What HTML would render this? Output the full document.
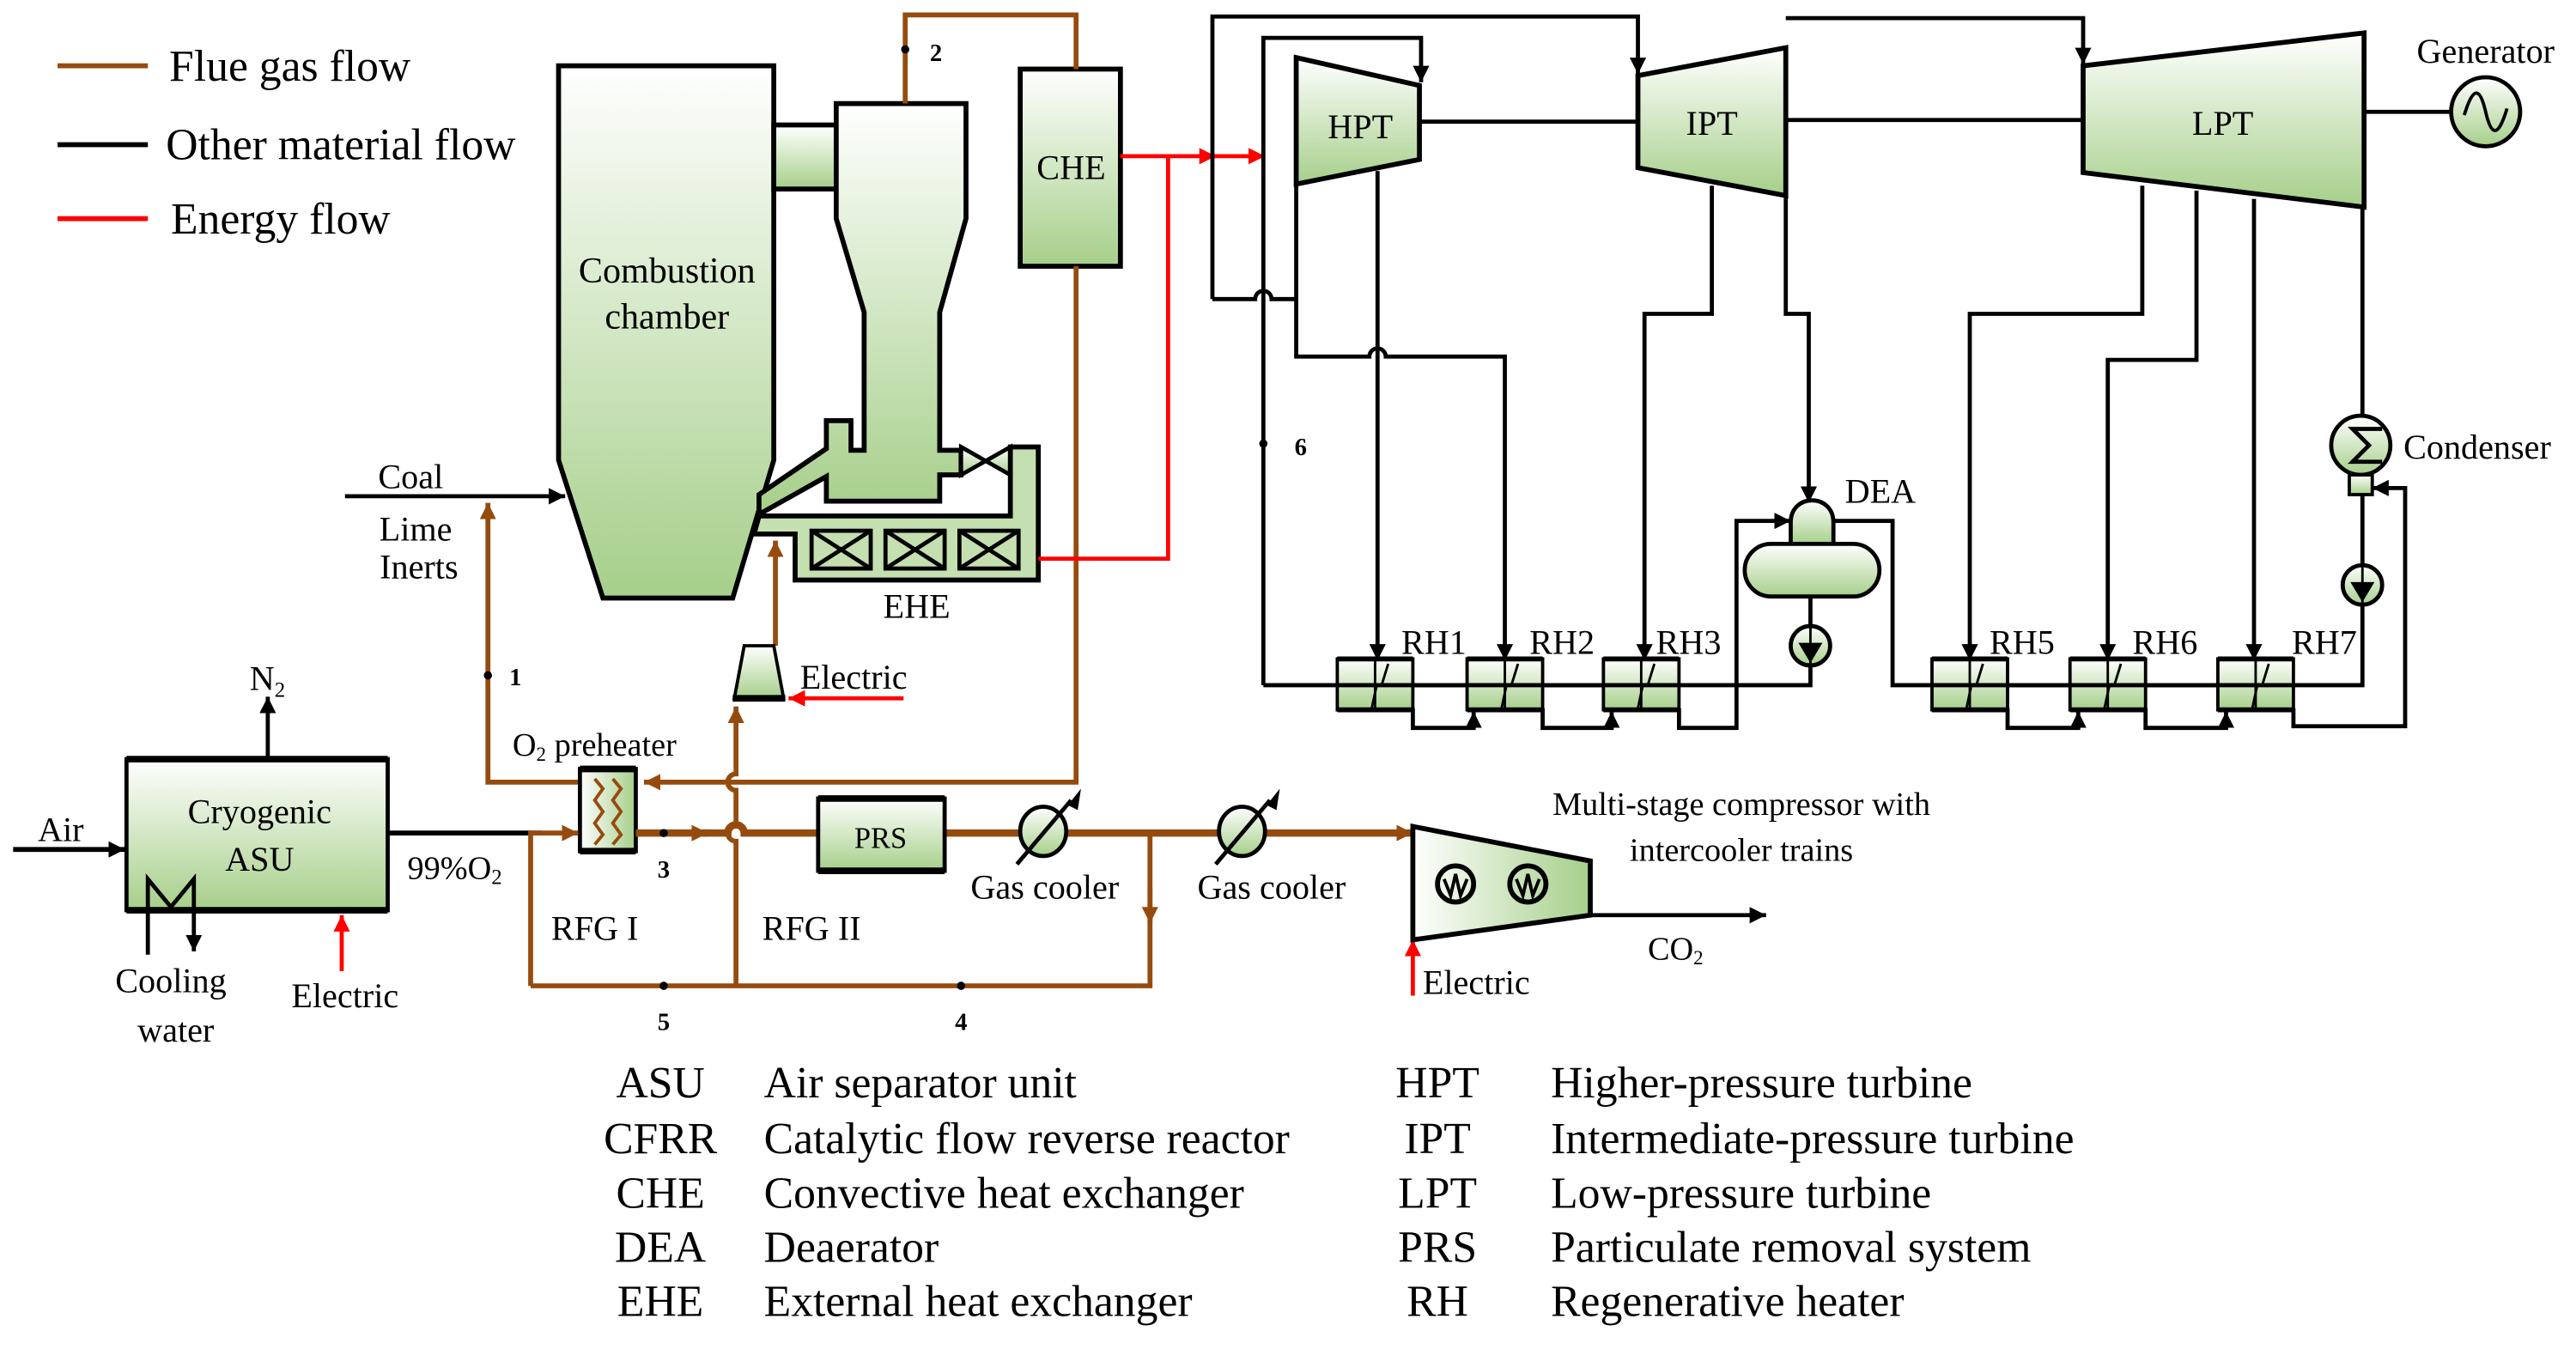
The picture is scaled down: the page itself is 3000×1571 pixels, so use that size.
<!DOCTYPE html>
<html><head><meta charset="utf-8"><style>
html,body{margin:0;padding:0;background:#fff;}
svg{display:block;}
text{font-family:"Liberation Serif",serif;fill:#000;}
</style></head><body>
<svg width="3000" height="1571" viewBox="0 0 1568 821" xmlns="http://www.w3.org/2000/svg">
<defs>
<linearGradient id="g" x1="0" y1="0" x2="0" y2="1"><stop offset="0" stop-color="#ffffff"/><stop offset="1" stop-color="#a6cf8a"/></linearGradient>
<linearGradient id="gh" x1="0" y1="0" x2="1" y2="0"><stop offset="0" stop-color="#ffffff"/><stop offset="1" stop-color="#a6cf8a"/></linearGradient>
<marker id="ak" markerWidth="12" markerHeight="12" refX="10" refY="5" orient="auto" markerUnits="userSpaceOnUse"><path d="M0,0 L10,5 L0,10 z" fill="#000"/></marker>
<marker id="ab" markerWidth="12" markerHeight="12" refX="10" refY="5" orient="auto" markerUnits="userSpaceOnUse"><path d="M0,0 L10,5 L0,10 z" fill="#964B0E"/></marker>
<marker id="ar" markerWidth="12" markerHeight="12" refX="10" refY="5" orient="auto" markerUnits="userSpaceOnUse"><path d="M0,0 L10,5 L0,10 z" fill="#f00"/></marker>
<g id="rh">
<rect x="0" y="0" width="46" height="31" fill="url(#g)" stroke="#000" stroke-width="2"/>
<line x1="0" y1="0" x2="46" y2="0" stroke="#000" stroke-width="3"/>
<line x1="0" y1="31" x2="46" y2="31" stroke="#000" stroke-width="3"/>
<line x1="23" y1="0" x2="23" y2="31" stroke="#000" stroke-width="1.5"/>
<path d="M21,30 L24,16 L27,16 L31,3" fill="none" stroke="#000" stroke-width="1.5"/>
</g>
</defs>

<!-- Legend -->
<g stroke-width="3">
<line x1="35" y1="40" x2="90" y2="40" stroke="#964B0E"/>
<line x1="35" y1="88" x2="90" y2="88" stroke="#000"/>
<line x1="35" y1="133" x2="90" y2="133" stroke="#f00"/>
</g>
<text x="103" y="49" font-size="27">Flue gas flow</text>
<text x="101" y="97" font-size="27">Other material flow</text>
<text x="104" y="142" font-size="27">Energy flow</text>

<!-- Combustion chamber -->
<polygon points="340,40 471,40 471,280 446,364 367,364 340,280" fill="url(#g)" stroke="#000" stroke-width="3"/>
<text x="406" y="172" font-size="22" text-anchor="middle">Combustion</text>
<text x="406" y="200" font-size="22" text-anchor="middle">chamber</text>
<rect x="471" y="76" width="38" height="39" fill="url(#g)" stroke="#000" stroke-width="3"/>
<path d="M509,63 L588,63 L588,133 L572,190 L572,274 L585,274 L585,289 L572,289 L572,305 L503,305 L503,290 L462,313 L462,301 L503,273 L503,256 L518,256 L518,274 L526,274 L526,190 L509,133 Z" fill="url(#g)" stroke="#000" stroke-width="3"/>
<path d="M585,272 L615,289 L615,272 L585,289 Z" fill="url(#g)" stroke="#000" stroke-width="2.5"/>
<path d="M615,272 L632,272 L632,353 L484,353 L484,325 L459,325 L462,314 L615,314 Z" fill="#c5e0b0" stroke="#000" stroke-width="3"/>
<g fill="none" stroke="#000" stroke-width="2.5">
<rect x="494" y="323" width="36" height="23"/><path d="M494,323 L530,346 M530,323 L494,346"/>
<rect x="539" y="323" width="36" height="23"/><path d="M539,323 L575,346 M575,323 L539,346"/>
<rect x="584" y="323" width="36" height="23"/><path d="M584,323 L620,346 M620,323 L584,346"/>
</g>
<text x="558" y="376" font-size="21" text-anchor="middle">EHE</text>

<rect x="621" y="42" width="61" height="120" fill="url(#g)" stroke="#000" stroke-width="3"/>
<text x="652" y="109" font-size="21" text-anchor="middle">CHE</text>

<g fill="none" stroke="#964B0E" stroke-width="3">
<path d="M551,63 L551,9 L655,9 L655,42"/>
<path d="M655,162 L655,476 L392,476" marker-end="url(#ab)"/>
<path d="M353,476 L297,476 L297,306" marker-end="url(#ab)"/>
<path d="M472,393 L472,329" marker-end="url(#ab)"/>
</g>
<circle cx="551" cy="30" r="2.5" fill="#000"/>
<text x="566" y="37" font-size="15" font-weight="bold">2</text>
<circle cx="297" cy="411" r="2.5" fill="#000"/>
<text x="310" y="417" font-size="15" font-weight="bold">1</text>

<g fill="none" stroke="#f00" stroke-width="2.5">
<path d="M682,95 L740,95" marker-end="url(#ar)"/>
<path d="M738,95 L770,95" marker-end="url(#ar)"/>
<path d="M711,95 L711,340 L632,340"/>
<path d="M550,425 L480,425" marker-end="url(#ar)"/>
<path d="M208,591 L208,557" marker-end="url(#ar)"/>
<path d="M860,606 L860,572" marker-end="url(#ar)"/>
</g>

<path d="M210,302 L344,302" stroke="#000" stroke-width="2.5" marker-end="url(#ak)"/>
<text x="250" y="297" font-size="21" text-anchor="middle">Coal</text>
<text x="253" y="329" font-size="21" text-anchor="middle">Lime</text>
<text x="255" y="352" font-size="21" text-anchor="middle">Inerts</text>

<polygon points="453,393 471,393 477,425 447,425" fill="url(#g)" stroke="#000" stroke-width="2"/>
<line x1="446" y1="425" x2="478" y2="425" stroke="#000" stroke-width="4"/>
<text x="487" y="419" font-size="21">Electric</text>

<rect x="77" y="462" width="159" height="92" fill="url(#g)" stroke="#000" stroke-width="2.5"/>
<line x1="77" y1="462" x2="236" y2="462" stroke="#000" stroke-width="4"/>
<line x1="77" y1="554" x2="236" y2="554" stroke="#000" stroke-width="4"/>
<text x="158" y="501" font-size="21" text-anchor="middle">Cryogenic</text>
<text x="158" y="530" font-size="21" text-anchor="middle">ASU</text>
<path d="M163,462 L163,424" stroke="#000" stroke-width="2.5" marker-end="url(#ak)"/>
<text x="152" y="420" font-size="21">N<tspan font-size="13" dy="4">2</tspan></text>
<path d="M8,517 L76,517" stroke="#000" stroke-width="3" marker-end="url(#ak)"/>
<text x="37" y="512" font-size="21" text-anchor="middle">Air</text>
<path d="M90,581 L90,535 L104,552 L118,535 L118,579" fill="none" stroke="#000" stroke-width="2.5" marker-end="url(#ak)"/>
<text x="104" y="604" font-size="21" text-anchor="middle">Cooling</text>
<text x="107" y="634" font-size="21" text-anchor="middle">water</text>
<text x="210" y="613" font-size="21" text-anchor="middle">Electric</text>
<line x1="236" y1="507" x2="330" y2="507" stroke="#000" stroke-width="3"/>
<text x="248" y="535" font-size="20">99%O<tspan font-size="13" dy="3">2</tspan></text>

<text x="312" y="460" font-size="20">O<tspan font-size="12" dy="3">2</tspan><tspan dy="-3"> preheater</tspan></text>
<rect x="353" y="468" width="34" height="50" fill="url(#gh)" stroke="#000" stroke-width="2.5"/>
<line x1="353" y1="468" x2="387" y2="468" stroke="#000" stroke-width="4"/>
<line x1="353" y1="518" x2="387" y2="518" stroke="#000" stroke-width="4"/>
<g fill="none" stroke="#964B0E" stroke-width="2">
<path d="M362,474 L367,480 L362,487 L367,494 L362,501 L367,508 L362,514"/>
<path d="M373,474 L378,480 L373,487 L378,494 L373,501 L378,508 L373,514"/>
</g>

<g fill="none" stroke="#964B0E">
<path d="M323,600 L323,507 L352,507" stroke-width="3" marker-end="url(#ab)"/>
<path d="M387,507 L431,507" stroke-width="4.5" marker-end="url(#ab)"/>
<path d="M428,507 L443,507 A5,5 0 0 1 453,507 L498,507" stroke-width="4.5"/>
<path d="M575,507 L700,507 L758,507" stroke-width="4.5"/>
<path d="M758,507 L860,507" stroke-width="4.5" marker-end="url(#ab)"/>
<path d="M700,507 L700,600 L323,600" stroke-width="3"/>
<path d="M700,540 L700,562" stroke-width="3" marker-end="url(#ab)"/>
<path d="M448,600 L448,512 A5,5 0 0 1 448,502 L448,481 A5,5 0 0 1 448,471 L448,430" stroke-width="3" marker-end="url(#ab)"/>
</g>
<circle cx="404" cy="507" r="2.5" fill="#000"/>
<text x="404" y="534" font-size="15" font-weight="bold" text-anchor="middle">3</text>
<circle cx="404" cy="600" r="2.5" fill="#000"/>
<text x="404" y="627" font-size="15" font-weight="bold" text-anchor="middle">5</text>
<circle cx="585" cy="600" r="2.5" fill="#000"/>
<text x="585" y="627" font-size="15" font-weight="bold" text-anchor="middle">4</text>
<text x="362" y="572" font-size="21" text-anchor="middle">RFG I</text>
<text x="494" y="572" font-size="21" text-anchor="middle">RFG II</text>

<rect x="498" y="486" width="77" height="44" fill="url(#g)" stroke="#000" stroke-width="2.5"/>
<line x1="498" y1="486" x2="575" y2="486" stroke="#000" stroke-width="4"/>
<line x1="498" y1="530" x2="575" y2="530" stroke="#000" stroke-width="4"/>
<text x="536" y="516" font-size="18" text-anchor="middle">PRS</text>

<g stroke="#000" stroke-width="2.5">
<ellipse cx="635" cy="506" rx="14" ry="15" fill="url(#g)"/>
<line x1="619" y1="526" x2="652" y2="487"/>
<ellipse cx="756" cy="506" rx="14" ry="15" fill="url(#g)"/>
<line x1="740" y1="526" x2="773" y2="487"/>
</g>
<polygon points="658,480 650,490 656,493" fill="#000"/>
<polygon points="779,480 771,490 777,493" fill="#000"/>
<text x="636" y="547" font-size="21" text-anchor="middle">Gas cooler</text>
<text x="774" y="547" font-size="21" text-anchor="middle">Gas cooler</text>

<polygon points="860,503 968,524 968,557 860,572" fill="url(#gh)" stroke="#000" stroke-width="3"/>
<g fill="none" stroke="#000" stroke-width="3">
<circle cx="886" cy="538" r="11"/><path d="M879,535 L883,545 L886,532 L889,545 L893,535" stroke-width="2"/>
<circle cx="930" cy="538" r="11"/><path d="M923,535 L927,545 L930,532 L933,545 L937,535" stroke-width="2"/>
</g>
<path d="M968,557 L1075,557" stroke="#000" stroke-width="2.5" marker-end="url(#ak)"/>
<text x="1003" y="584" font-size="20">CO<tspan font-size="12" dy="3">2</tspan></text>
<text x="866" y="605" font-size="21">Electric</text>
<text x="1060" y="496" font-size="20" text-anchor="middle">Multi-stage compressor with</text>
<text x="1060" y="524" font-size="20" text-anchor="middle">intercooler trains</text>

<polygon points="789,35 864,52 864,97 789,112" fill="url(#g)" stroke="#000" stroke-width="3"/>
<text x="828" y="84" font-size="21" text-anchor="middle">HPT</text>
<polygon points="997,46 1087,29 1087,119 997,102" fill="url(#g)" stroke="#000" stroke-width="3"/>
<text x="1042" y="82" font-size="21" text-anchor="middle">IPT</text>
<polygon points="1268,40 1439,20 1439,126 1268,105" fill="url(#g)" stroke="#000" stroke-width="3"/>
<text x="1353" y="82" font-size="21" text-anchor="middle">LPT</text>
<line x1="1439" y1="68" x2="1491" y2="68" stroke="#000" stroke-width="2.5"/>
<circle cx="1513" cy="68" r="21" fill="url(#g)" stroke="#000" stroke-width="2.5"/>
<path d="M1500,70 C1506,50 1510,55 1513,68 C1516,81 1520,86 1526,66" fill="none" stroke="#000" stroke-width="2"/>
<text x="1513" y="38" font-size="21" text-anchor="middle">Generator</text>

<g fill="none" stroke="#000" stroke-width="2.5">
<path d="M738,182 L738,10 L997,10 L997,45" marker-end="url(#ak)"/>
<path d="M738,182 L764,182 A5,5 0 0 1 774,182 L789,182"/>
<path d="M769,417 L769,23 L865,23 L865,50" marker-end="url(#ak)"/>
<path d="M864,74 L997,74"/>
<path d="M1087,73 L1268,73"/>
<path d="M1087,11 L1268,11 L1268,39" marker-end="url(#ak)"/>
<path d="M789,112 L789,217 L833.5,217 A5,5 0 0 1 843.5,217 L916,217 L916,402" marker-end="url(#ak)"/>
<path d="M838.5,104 L838.5,402" marker-end="url(#ak)"/>
<path d="M1042,113 L1042,191 L1001,191 L1001,402" marker-end="url(#ak)"/>
<path d="M1087,119 L1087,191 L1101,191 L1101,306" marker-end="url(#ak)"/>
<path d="M1304,113 L1304,191 L1199,191 L1199,402" marker-end="url(#ak)"/>
<path d="M1337,116 L1337,219 L1283,219 L1283,402" marker-end="url(#ak)"/>
<path d="M1372,121 L1372,402" marker-end="url(#ak)"/>
<path d="M1438,126 L1438,253"/>
<path d="M769,417 L1102,417 L1102,405"/>
<path d="M1102,381 L1102,363"/>
<path d="M1116,317 L1152,317 L1152,417 L1438,417 L1438,368"/>
<path d="M1438,344 L1438,301"/>
<path d="M860,431 L860,443 L897,443 L897,433" marker-end="url(#ak)"/>
<path d="M939,431 L939,443 L981,443 L981,433" marker-end="url(#ak)"/>
<path d="M1022,431 L1022,443 L1057,443 L1057,317 L1090,317" marker-end="url(#ak)"/>
<path d="M1222,431 L1222,443 L1265,443 L1265,433" marker-end="url(#ak)"/>
<path d="M1306,431 L1306,443 L1355,443 L1355,433" marker-end="url(#ak)"/>
<path d="M1396,431 L1396,442 L1464,442 L1464,297 L1444,297" marker-end="url(#ak)"/>
</g>
<circle cx="769" cy="270" r="2.5" fill="#000"/>
<text x="788" y="277" font-size="15" font-weight="bold">6</text>

<path d="M1090,331 L1090,318 C1090,300 1116,300 1116,318 L1116,331 Z" fill="url(#g)" stroke="#000" stroke-width="2.5"/>
<rect x="1062" y="331" width="82" height="32" rx="16" fill="url(#g)" stroke="#000" stroke-width="2.5"/>
<text x="1123" y="306" font-size="21">DEA</text>
<circle cx="1102" cy="393" r="12" fill="url(#g)" stroke="#000" stroke-width="2.5"/>
<path d="M1102,381 L1102,405 M1096,392 L1108,392 L1102,402 Z" fill="#000" stroke="#000" stroke-width="1.5"/>
<circle cx="1438" cy="356" r="12" fill="url(#g)" stroke="#000" stroke-width="2.5"/>
<path d="M1438,344 L1438,368 M1432,355 L1444,355 L1438,365 Z" fill="#000" stroke="#000" stroke-width="1.5"/>

<circle cx="1437" cy="271" r="18" fill="url(#g)" stroke="#000" stroke-width="2.5"/>
<path d="M1450,261 L1432,261 L1442,271 L1432,281 L1450,281" fill="none" stroke="#000" stroke-width="2.5"/>
<rect x="1430" y="289" width="14" height="12" fill="url(#g)" stroke="#000" stroke-width="2"/>
<text x="1463" y="279" font-size="21">Condenser</text>

<use href="#rh" x="814" y="401"/>
<use href="#rh" x="893" y="401"/>
<use href="#rh" x="976" y="401"/>
<use href="#rh" x="1176" y="401"/>
<use href="#rh" x="1260" y="401"/>
<use href="#rh" x="1350" y="401"/>
<g stroke="#000" stroke-width="2.5">
<line x1="814" y1="417" x2="1022" y2="417"/>
<line x1="1176" y1="417" x2="1396" y2="417"/>
</g>
<g font-size="21">
<text x="853" y="398">RH1</text>
<text x="931" y="398">RH2</text>
<text x="1008" y="398">RH3</text>
<text x="1211" y="398">RH5</text>
<text x="1298" y="398">RH6</text>
<text x="1395" y="398">RH7</text>
</g>

<g font-size="27">
<text x="402" y="668" text-anchor="middle">ASU</text>
<text x="402" y="702" text-anchor="middle">CFRR</text>
<text x="402" y="735" text-anchor="middle">CHE</text>
<text x="402" y="768" text-anchor="middle">DEA</text>
<text x="402" y="801" text-anchor="middle">EHE</text>
<text x="465" y="668">Air separator unit</text>
<text x="465" y="702">Catalytic flow reverse reactor</text>
<text x="465" y="735">Convective heat exchanger</text>
<text x="465" y="768">Deaerator</text>
<text x="465" y="801">External heat exchanger</text>
<text x="875" y="668" text-anchor="middle">HPT</text>
<text x="875" y="702" text-anchor="middle">IPT</text>
<text x="875" y="735" text-anchor="middle">LPT</text>
<text x="875" y="768" text-anchor="middle">PRS</text>
<text x="875" y="801" text-anchor="middle">RH</text>
<text x="944" y="668">Higher-pressure turbine</text>
<text x="944" y="702">Intermediate-pressure turbine</text>
<text x="944" y="735">Low-pressure turbine</text>
<text x="944" y="768">Particulate removal system</text>
<text x="944" y="801">Regenerative heater</text>
</g>
</svg>
</body></html>
